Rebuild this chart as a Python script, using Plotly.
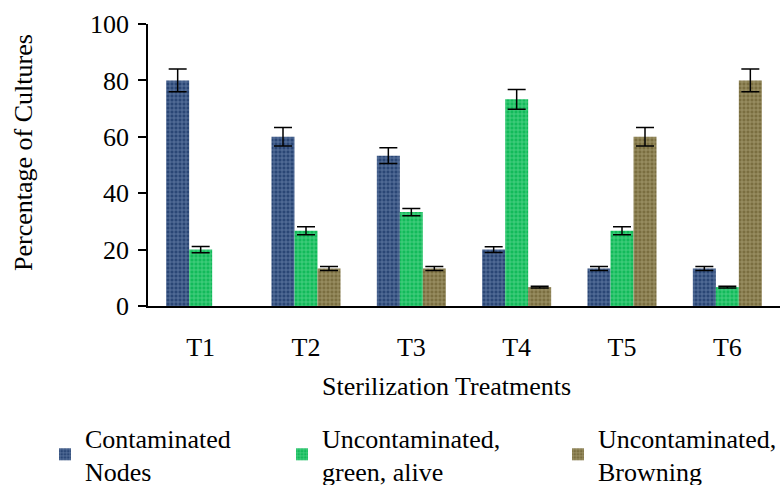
import plotly.graph_objects as go

categories = ["T1", "T2", "T3", "T4", "T5", "T6"]
contaminated = [80, 60, 53.3, 20, 13.3, 13.3]
contaminated_err = [4, 3.3, 2.8, 1.0, 0.7, 0.7]
green_alive = [20, 26.7, 33.3, 73.3, 26.7, 6.7]
green_alive_err = [1.1, 1.4, 1.3, 3.5, 1.4, 0.3]
browning = [None, 13.3, 13.3, 6.7, 60, 80]
browning_err = [0, 0.7, 0.7, 0.3, 3.3, 4]

series = [
    ("Contaminated<br>Nodes", contaminated, contaminated_err, "#2A4675", "#9FB6D8", "legend"),
    ("Uncontaminated,<br>green, alive", green_alive, green_alive_err, "#12BA5A", "#96EDBA", "legend2"),
    ("Uncontaminated,<br>Browning", browning, browning_err, "#7A6E40", "#D3CCA2", "legend3"),
]

FONT = "Liberation Serif"
FS = 26

W, H = 780, 485
L, R, T, B = 148, 0, 24, 179
pw, ph = W - L - R, H - T - B

def px_x(p):
    return (p - L) / pw

def px_y(p):
    return (H - B - p) / ph

fig = go.Figure()
for name, vals, errs, bg, fg, leg in series:
    fig.add_trace(go.Bar(
        x=categories, y=vals, name=name, legend=leg, showlegend=True,
        marker=dict(
            color=bg,
            line=dict(width=0),
            pattern=dict(shape="+", size=4, solidity=0.35, fgcolor=fg, bgcolor=bg, fillmode="overlay"),
        ),
        error_y=dict(type="data", array=errs, visible=True, color="black", thickness=1.5, width=9),
    ))

legend_common = dict(orientation="h", xanchor="left", yanchor="top",
                     font=dict(family=FONT, size=FS, color="black"), itemwidth=30,
                     bgcolor="rgba(0,0,0,0)")

fig.update_layout(
    width=W, height=H,
    margin=dict(l=L, r=R, t=T, b=B, autoexpand=False),
    paper_bgcolor="white", plot_bgcolor="white",
    showlegend=True,
    barmode="group", bargap=0.345, bargroupgap=0,
    font=dict(family=FONT, size=FS, color="black"),
    xaxis=dict(
        range=[-0.5, 5.5], automargin=False,
        showline=True, linecolor="black", linewidth=1.5,
        ticks="", tickfont=dict(family=FONT, size=FS),
        ticklabelstandoff=17,
    ),
    yaxis=dict(
        range=[0, 100], dtick=20, automargin=False,
        showline=True, linecolor="black", linewidth=1.5,
        ticks="outside", ticklen=8, tickwidth=1.5, tickcolor="black",
        showgrid=False, zeroline=False,
        tickfont=dict(family=FONT, size=FS),
        ticklabelstandoff=4,
    ),
    legend=dict(x=px_x(45), y=px_y(414), **legend_common),
    legend2=dict(x=px_x(282), y=px_y(414), **legend_common),
    legend3=dict(x=px_x(558), y=px_y(414), **legend_common),
    annotations=[
        dict(text="Sterilization Treatments", x=px_x(446), y=px_y(386), xref="paper", yref="paper",
             showarrow=False, xanchor="center", yanchor="middle", font=dict(family=FONT, size=FS)),
        dict(text="Percentage of Cultures", x=px_x(23), y=px_y(153), xref="paper", yref="paper",
             showarrow=False, xanchor="center", yanchor="middle", textangle=-90,
             font=dict(family=FONT, size=FS)),
    ],
)

fig.write_html("out.html", config={"displayModeBar": False},
               post_script="document.body.style.margin='0';document.body.style.overflow='hidden';")
